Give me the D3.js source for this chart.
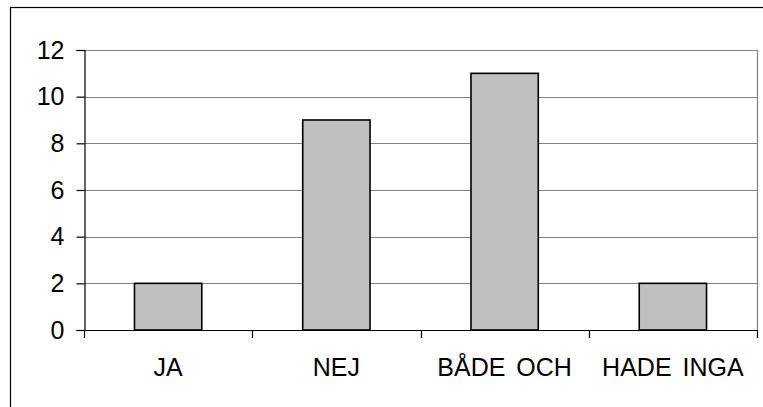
<!DOCTYPE html>
<html>
<head>
<meta charset="utf-8">
<script src="https://cdn.jsdelivr.net/npm/d3@7"></script>
<style>
  html, body { margin: 0; padding: 0; background: #fff; }
  svg { display: block; }
  text { font-family: "Liberation Sans", Arial, sans-serif; fill: #000; }
</style>
</head>
<body>
<svg id="chart" width="763" height="407"></svg>
<script>
// Survey answers and their counts
const categories = ["JA", "NEJ", "BÅDE OCH", "HADE INGA"];
const counts = [2, 9, 11, 2];
const yTicks = [0, 2, 4, 6, 8, 10, 12];

const W = 763, H = 407;
const plot = { left: 84, top: 50, right: 757, bottom: 330 };

const svg = d3.select("#chart");

// outer chart frame (runs off the right and bottom edges)
svg.append("rect")
  .attr("x", 10.5).attr("y", 7.5)
  .attr("width", W + 10).attr("height", H + 10)
  .attr("fill", "#fff").attr("stroke", "#000").attr("stroke-width", 1.2);

const x = d3.scaleBand()
  .domain(categories)
  .range([plot.left, plot.right])
  .paddingInner(0.6)
  .paddingOuter(0.3);

const xTickScale = d3.scaleLinear().domain([0, categories.length]).range([plot.left, plot.right]);

const y = d3.scaleLinear().domain([0, 12]).range([plot.bottom, plot.top]);

// grid lines
svg.append("g")
  .selectAll("line")
  .data(yTicks.filter(d => d > 0))
  .join("line")
  .attr("x1", plot.left).attr("x2", plot.right)
  .attr("y1", d => Math.round(y(d)) + 0.5).attr("y2", d => Math.round(y(d)) + 0.5)
  .attr("stroke", "#808080").attr("stroke-width", 1.2);

// right edge of plot area
svg.append("line")
  .attr("x1", plot.right + 0.5).attr("x2", plot.right + 0.5)
  .attr("y1", plot.top).attr("y2", plot.bottom)
  .attr("stroke", "#808080").attr("stroke-width", 1.2);

// bars
svg.append("g")
  .selectAll("rect")
  .data(categories.map((c, i) => ({ c, v: counts[i] })))
  .join("rect")
  .attr("x", d => x(d.c))
  .attr("y", d => y(d.v))
  .attr("width", x.bandwidth())
  .attr("height", d => y(0) - y(d.v))
  .attr("fill", "#c0c0c0")
  .attr("stroke", "#000")
  .attr("stroke-width", 1.6);

// y axis
const yAxis = d3.axisLeft(y).tickValues(yTicks).tickSize(8).tickPadding(12).tickFormat(d3.format("d"));
const gy = svg.append("g").attr("transform", `translate(${plot.left + 0.5},0)`).call(yAxis);
gy.select(".domain").attr("stroke", "#000").attr("stroke-width", 1.2);
gy.selectAll(".tick line").attr("stroke", "#000").attr("stroke-width", 1.2);
gy.selectAll(".tick text").attr("font-size", 25).attr("font-family", "Liberation Sans, Arial, sans-serif").attr("fill", "#000");

// x axis baseline and category dividers
const gx = svg.append("g");
gx.append("line")
  .attr("x1", plot.left).attr("x2", plot.right + 1)
  .attr("y1", plot.bottom + 0.5).attr("y2", plot.bottom + 0.5)
  .attr("stroke", "#000").attr("stroke-width", 1.2);
gx.selectAll("line.div")
  .data(d3.range(categories.length + 1))
  .join("line")
  .attr("class", "div")
  .attr("x1", d => Math.round(xTickScale(d)) + 0.5).attr("x2", d => Math.round(xTickScale(d)) + 0.5)
  .attr("y1", plot.bottom).attr("y2", plot.bottom + 8)
  .attr("stroke", "#000").attr("stroke-width", 1.2);
gx.selectAll("text")
  .data(categories)
  .join("text")
  .attr("x", d => x(d) + x.bandwidth() / 2)
  .attr("y", 376)
  .attr("text-anchor", "middle")
  .attr("font-size", 25)
  .attr("word-spacing", 4)
  .text(d => d);
</script>
</body>
</html>
